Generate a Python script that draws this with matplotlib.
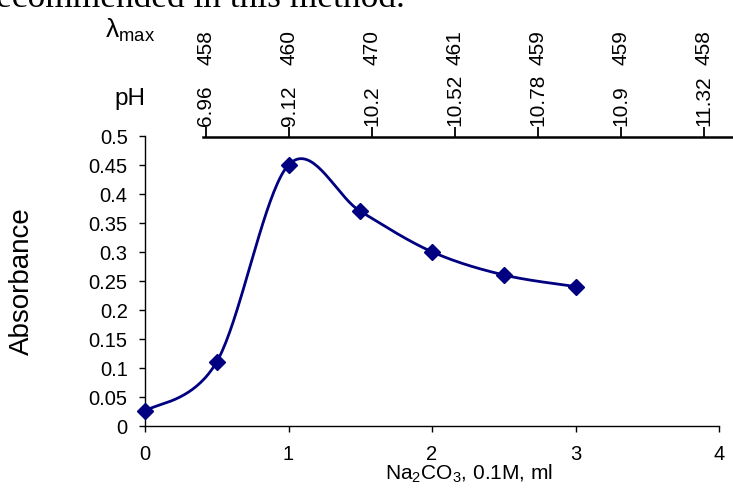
import numpy as np
import matplotlib
matplotlib.use('Agg')
import matplotlib.pyplot as plt

plt.rcParams['font.family'] = ['Liberation Sans', 'DejaVu Sans']
plt.rcParams['mathtext.fontset'] = 'custom'
plt.rcParams['mathtext.rm'] = 'Liberation Sans'

# data
na2co3_ml = [0, 0.5, 1.0, 1.5, 2.0, 2.5, 3.0]
absorbance = [0.025, 0.11, 0.45, 0.37, 0.30, 0.26, 0.24]
ph_values = ['6.96', '9.12', '10.2', '10.52', '10.78', '10.9', '11.32']
lambda_max = ['458', '460', '470', '461', '459', '459', '458']
y_ticks = [0, 0.05, 0.1, 0.15, 0.2, 0.25, 0.3, 0.35, 0.4, 0.45, 0.5]
x_ticks = [0, 1, 2, 3, 4]

navy = '#000080'
W, H = 733, 489


def smooth(xs, ys, n=40):
    # Catmull-Rom style bezier, like the spreadsheet "smoothed line"
    pts = np.column_stack([xs, ys])
    out = []
    for i in range(len(pts) - 1):
        p0 = pts[i - 1] if i > 0 else pts[i]
        p1 = pts[i]
        p2 = pts[i + 1]
        p3 = pts[i + 2] if i + 2 < len(pts) else pts[i + 1]
        c1 = p1 + (p2 - p0) / 6
        c2 = p2 - (p3 - p1) / 6
        t = np.linspace(0, 1, n)[:, None]
        seg = ((1 - t) ** 3) * p1 + 3 * ((1 - t) ** 2) * t * c1 + 3 * (1 - t) * t ** 2 * c2 + t ** 3 * p2
        out.append(seg)
    out = np.vstack(out)
    return out[:, 0], out[:, 1]


fig = plt.figure(figsize=(W / 100, H / 100), dpi=100)

# main axes, placed in pixels
x0, x1 = 145, 719
y0, y1 = 426.5, 137
ax = fig.add_axes([x0 / W, 1 - y0 / H, (x1 - x0) / W, (y0 - y1) / H])
sx, sy = smooth(na2co3_ml, absorbance)
ax.plot(sx, sy, color=navy, lw=2.0, zorder=3, clip_on=False)
ax.plot(na2co3_ml, absorbance, ls='none', marker='D', ms=8.5, color=navy, zorder=4, clip_on=False)
ax.set_xlim(0, 4)
ax.set_ylim(0, 0.5)
ax.set_xticks(x_ticks)
ax.set_xticklabels([str(v) for v in x_ticks])
ax.set_yticks(y_ticks)
ax.set_yticklabels([f'{v:g}' for v in y_ticks])
for s in ['top', 'right']:
    ax.spines[s].set_visible(False)
for s in ['left', 'bottom']:
    ax.spines[s].set_linewidth(1.0)
ax.tick_params(axis='both', labelsize=14.5, length=4.5, width=1.0, direction='out')
ax.tick_params(axis='y', pad=8)
ax.tick_params(axis='x', pad=9)
ax.patch.set_alpha(0)

fig.text(22 / W, 1 - 281 / H, 'Absorbance', rotation=90, ha='center', va='center', fontsize=20)
fig.text(469 / W, 1 - 474 / H, 'Na$_\\mathregular{2}$CO$_\\mathregular{3}$, 0.1M, ml',
         ha='center', va='center', fontsize=15)

# top pH / lambda axis
tx0, tline = 203, 138
first_tick, step = 206, 83
ax2 = fig.add_axes([tx0 / W, 1 - tline / H, (W - tx0) / W, 0.0001])
ax2.set_xlim((tx0 - first_tick) / step, (W - first_tick) / step)
ax2.set_yticks([])
for s in ['bottom', 'left', 'right']:
    ax2.spines[s].set_visible(False)
ax2.spines['top'].set_linewidth(1.8)
ax2.xaxis.set_ticks_position('top')
ax2.xaxis.set_label_position('top')
idx = list(range(len(ph_values)))
ax2.set_xticks(idx)
ax2.set_xticklabels(ph_values, rotation=90)
ax2.tick_params(axis='x', labelsize=15, length=7, width=1.3, pad=1.5)
ax2.patch.set_alpha(0)
for i, lam in zip(idx, lambda_max):
    ax2.annotate(lam, xy=(i, 1), xycoords=('data', 'axes fraction'), xytext=(0, 52.5),
                 textcoords='offset points', rotation=90, ha='center', va='bottom', fontsize=15)

fig.text(145 / W, 1 - 99 / H, 'pH', ha='right', va='center', fontsize=17.5)
fig.text(105 / W, 1 - 30 / H, 'λ$_\\mathregular{max}$', ha='left', va='center', fontsize=19)

# cut-off sentence from the page above the chart
fig.text(-4 / W, 1 - 7 / H, 'ecommended in this method.', family='Liberation Serif',
         fontsize=25.5, ha='left', va='baseline')

fig.savefig('out.png', dpi=100)
